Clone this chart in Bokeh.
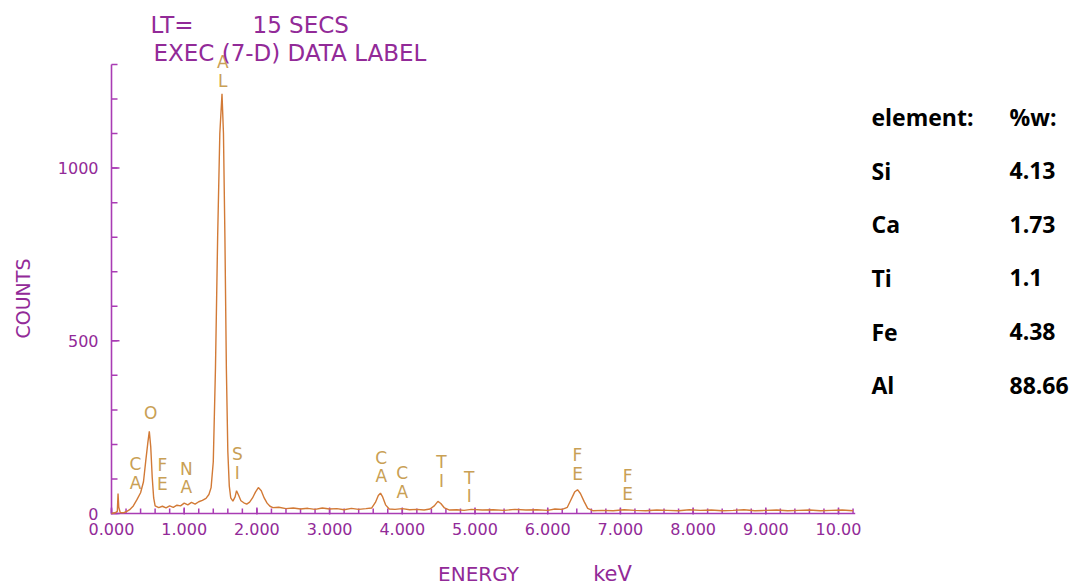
import math
from bokeh.plotting import figure
from bokeh.models import Label, Range1d
from bokeh.core.properties import value
from bokeh.embed import file_html
from bokeh.resources import INLINE

# ---------------- data ----------------
energy = [0.00, 0.05, 0.08, 0.09, 0.10, 0.12, 0.16, 0.20, 0.25, 0.30, 0.35, 0.40, 0.44, 0.47, 0.50,
          0.52, 0.54, 0.56, 0.58, 0.60, 0.65, 0.70, 0.75, 0.80, 0.85, 0.90, 0.95, 1.00, 1.05, 1.10,
          1.15, 1.20, 1.25, 1.30, 1.34, 1.37, 1.40, 1.43, 1.46, 1.49, 1.52, 1.54, 1.56, 1.58, 1.60,
          1.62, 1.64, 1.67, 1.70, 1.72, 1.75, 1.78, 1.82, 1.86, 1.90, 1.94, 1.98, 2.02, 2.06, 2.10,
          2.14, 2.18, 2.22, 2.30, 2.40, 2.50, 2.60, 2.70, 2.80, 2.90, 3.00, 3.10, 3.20, 3.30, 3.40,
          3.50, 3.58, 3.63, 3.67, 3.70, 3.73, 3.77, 3.82, 3.90, 4.00, 4.10, 4.20, 4.30, 4.38, 4.44,
          4.49, 4.53, 4.58, 4.65, 4.75, 4.85, 4.95, 5.10, 5.25, 5.40, 5.55, 5.70, 5.85, 6.00, 6.10,
          6.20, 6.27, 6.32, 6.37, 6.41, 6.45, 6.50, 6.55, 6.62, 6.75, 6.90, 7.05, 7.20, 7.35, 7.50,
          7.65, 7.80, 7.95, 8.10, 8.25, 8.40, 8.55, 8.70, 8.85, 9.00, 9.15, 9.30, 9.45, 9.60, 9.75,
          9.90, 10.05, 10.20]
counts = [0, 2, 6, 58, 18, 3, 2, 5, 11, 22, 40, 60, 92, 150, 205,
          238, 192, 105, 45, 22, 17, 21, 16, 22, 18, 24, 22, 30, 25, 32,
          27, 34, 38, 44, 55, 75, 150, 420, 800, 1100, 1215, 1100, 800, 420, 180,
          80, 45, 36, 48, 66, 52, 37, 31, 27, 33, 45, 62, 75, 66, 45,
          30, 21, 17, 18, 14, 16, 13, 15, 12, 16, 13, 14, 11, 15, 12,
          14, 16, 32, 52, 59, 48, 25, 13, 12, 14, 11, 12, 10, 13, 22,
          35, 29, 16, 10, 11, 9, 12, 10, 11, 9, 12, 10, 11, 9, 13,
          12, 18, 40, 62, 69, 58, 35, 15, 8, 9, 8, 11, 9, 8, 10,
          9, 8, 11, 9, 10, 8, 9, 11, 8, 9, 10, 8, 9, 10, 8,
          9, 10, 8]

peak_names = ["CA", "O", "FE", "NA", "AL", "SI", "CA", "CA", "TI", "TI", "FE", "FE"]
peak_energy = [0.33, 0.54, 0.70, 1.03, 1.53, 1.73, 3.71, 4.00, 4.54, 4.92, 6.41, 7.10]
peak_label_top = [142, 292, 139, 130, 1306, 171, 162, 116, 148, 104, 168, 110]

x_ticks = [0, 1, 2, 3, 4, 5, 6, 7, 8, 9, 10]
x_tick_labels = ["0.000", "1.000", "2.000", "3.000", "4.000", "5.000",
                 "6.000", "7.000", "8.000", "9.000", "10.00"]
x_minor_step = 0.2
x_axis_end = 10.23
y_ticks = [0, 500, 1000]
y_tick_labels = ["0", "500", "1000"]
y_minor_step = 100
y_axis_end = 1300

elements = ["Si", "Ca", "Ti", "Fe", "Al"]
weights = ["4.13", "1.73", "1.1", "4.38", "88.66"]

# ---------------- layout / style ----------------
PURPLE_TEXT = "#922A98"
PURPLE_AXIS = "#A93CB4"
SPECTRUM = "#D27A36"
TAN = "#C9A055"
W, H = 1081, 586
ORIGIN_X, ORIGIN_Y = 111, 513        # page pixel of (0 keV, 0 counts)
PX_PER_KEV = 72.7
PX_PER_COUNT = 0.3454

p = figure(width=W, height=H, output_backend="svg", toolbar_location=None,
           x_range=Range1d(-ORIGIN_X / PX_PER_KEV, (W - ORIGIN_X) / PX_PER_KEV),
           y_range=Range1d(-(H - ORIGIN_Y) / PX_PER_COUNT, ORIGIN_Y / PX_PER_COUNT),
           min_border=0, x_axis_type=None, y_axis_type=None)
p.outline_line_color = None
p.background_fill_color = "white"
p.border_fill_color = "white"
p.xgrid.visible = False
p.ygrid.visible = False

dx = 1 / PX_PER_KEV      # one pixel in keV
dy = 1 / PX_PER_COUNT    # one pixel in counts

# axis lines
p.segment(x0=[0, 0], y0=[0, 0], x1=[x_axis_end, 0], y1=[0, y_axis_end],
          line_color=PURPLE_AXIS, line_width=1.6)

# x ticks
n_xminor = int(round(x_axis_end // x_minor_step)) + 1
x_minor = [round(i * x_minor_step, 1) for i in range(n_xminor)]
p.segment(x0=x_minor, y0=[0] * len(x_minor), x1=x_minor, y1=[5 * dy] * len(x_minor),
          line_color=PURPLE_AXIS, line_width=1.5)
p.segment(x0=x_ticks, y0=[-1 * dy] * len(x_ticks), x1=x_ticks, y1=[6 * dy] * len(x_ticks),
          line_color=PURPLE_AXIS, line_width=1.5)
p.text(x=x_ticks, y=[-15 * dy] * len(x_ticks), text=x_tick_labels,
       text_align="center", text_baseline="middle", text_font=value("DejaVu Sans"),
       text_font_size="16px", text_color=PURPLE_TEXT)

# y ticks
y_minor = [i * y_minor_step for i in range(y_axis_end // y_minor_step + 1)]
p.segment(x0=[0] * len(y_minor), y0=y_minor, x1=[6 * dx] * len(y_minor), y1=y_minor,
          line_color=PURPLE_AXIS, line_width=1.5)
p.segment(x0=[0] * len(y_ticks), y0=y_ticks, x1=[8 * dx] * len(y_ticks), y1=y_ticks,
          line_color=PURPLE_AXIS, line_width=1.5)
p.text(x=[-13 * dx] * len(y_ticks), y=y_ticks, text=y_tick_labels,
       text_align="right", text_baseline="middle", text_font=value("DejaVu Sans"),
       text_font_size="16px", text_color=PURPLE_TEXT)

# spectrum
p.line(energy, counts, line_color=SPECTRUM, line_width=1.4)

# peak labels (stacked letters)
lx, ly, lt = [], [], []
for name, e, top in zip(peak_names, peak_energy, peak_label_top):
    for i, ch in enumerate(name):
        lx.append(e)
        ly.append(top - i * 54)
        lt.append(ch)
p.text(x=lx, y=ly, text=lt, text_align="center", text_baseline="middle",
       text_font=value("DejaVu Sans"), text_font_size="17px", text_color=TAN)

# texts placed by page pixels (from top-left)
def add_label(x, y, text, size, color=PURPLE_TEXT, font="DejaVu Sans", align="left",
              style="normal", angle=0.0):
    p.add_layout(Label(x=x, y=H - y, x_units="screen", y_units="screen",
                       text=text, text_font=font, text_font_size=size, text_color=color,
                       text_align=align, text_baseline="middle", text_font_style=style,
                       angle=angle))

add_label(150, 24, "LT=", "23px")
add_label(252, 24, "15 SECS", "23px")
add_label(153, 52, "EXEC (7-D)  DATA LABEL", "23px")
add_label(478, 573, "ENERGY", "20px", align="center")
add_label(612, 573, "keV", "21px", align="center")
add_label(22, 298, "COUNTS", "19px", align="center", angle=math.pi / 2)

# table
TABLE_FONT = "Open Sans"
add_label(871, 116, "element:", "23px", color="black", font=TABLE_FONT, style="bold")
add_label(1009, 116, "%w:", "23px", color="black", font=TABLE_FONT, style="bold")
for i, (el, w) in enumerate(zip(elements, weights)):
    yy = 170 + i * 53.7
    add_label(871, yy, el, "23px", color="black", font=TABLE_FONT, style="bold")
    add_label(1009, yy, w, "23px", color="black", font=TABLE_FONT, style="bold")

open("out.html", "w").write(file_html(p, INLINE))
